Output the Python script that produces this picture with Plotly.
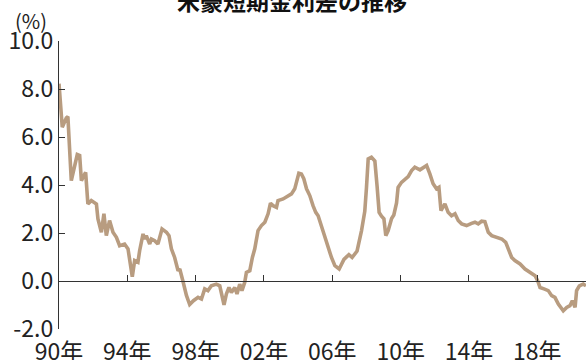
import plotly.graph_objects as go

# US-Australia short-term interest rate spread (%), by decimal year
years = [
    1990.00, 1990.19, 1990.43, 1990.52, 1990.72, 1991.07, 1991.21, 1991.31, 1991.56, 1991.69,
    1991.89, 1992.19, 1992.28, 1992.48, 1992.63, 1992.77, 1992.96, 1993.16, 1993.36, 1993.55,
    1993.84, 1994.04, 1994.29, 1994.43, 1994.62, 1994.72, 1994.92, 1995.01, 1995.11, 1995.31,
    1995.41, 1995.60, 1995.79, 1996.03, 1996.29, 1996.44, 1996.58, 1996.77, 1996.97, 1997.07,
    1997.26, 1997.46, 1997.65, 1997.87, 1998.14, 1998.34, 1998.53, 1998.72, 1998.92, 1999.21,
    1999.41, 1999.51, 1999.66, 1999.80, 1999.95, 2000.09, 2000.29, 2000.42, 2000.58, 2000.71,
    2000.87, 2000.97, 2001.17, 2001.32, 2001.46, 2001.65, 2001.85, 2002.05, 2002.24, 2002.38,
    2002.53, 2002.73, 2002.82, 2003.12, 2003.32, 2003.61, 2003.80, 2003.90, 2004.04, 2004.19,
    2004.33, 2004.49, 2004.68, 2004.87, 2005.03, 2005.17, 2005.37, 2005.56, 2005.75, 2005.95,
    2006.15, 2006.40, 2006.68, 2006.97, 2007.16, 2007.45, 2007.71, 2007.90, 2008.00, 2008.10,
    2008.29, 2008.49, 2008.62, 2008.74, 2008.88, 2009.02, 2009.13, 2009.27, 2009.47, 2009.60,
    2009.76, 2009.85, 2010.05, 2010.25, 2010.44, 2010.64, 2010.83, 2011.13, 2011.32, 2011.52,
    2011.71, 2011.90, 2012.10, 2012.24, 2012.36, 2012.59, 2012.78, 2012.98, 2013.18, 2013.37,
    2013.57, 2013.86, 2014.15, 2014.35, 2014.54, 2014.74, 2014.93, 2015.13, 2015.33, 2015.62,
    2015.92, 2016.15, 2016.30, 2016.50, 2016.69, 2016.99, 2017.28, 2017.57, 2017.87, 2018.02,
    2018.16, 2018.39, 2018.64, 2018.84, 2019.03, 2019.23, 2019.52, 2019.72, 2019.91, 2020.05,
    2020.21, 2020.30, 2020.46, 2020.69, 2020.85,
]
spread = [
    8.22, 6.41, 6.80, 6.85, 4.18, 5.27, 5.23, 4.18, 4.53, 3.21,
    3.35, 3.21, 2.59, 2.03, 2.80, 1.89, 2.52, 2.03, 1.82, 1.47,
    1.54, 1.34, 0.18, 0.85, 0.78, 1.26, 1.96, 1.75, 1.89, 1.54,
    1.75, 1.68, 1.54, 2.17, 2.03, 1.89, 1.34, 0.98, 0.43, 0.50,
    -0.02, -0.60, -0.98, -0.82, -0.68, -0.75, -0.33, -0.40, -0.20, -0.13,
    -0.20, -0.54, -0.99, -0.54, -0.27, -0.48, -0.27, -0.54, -0.13, -0.40,
    -0.06, 0.36, 0.43, 0.98, 1.34, 2.10, 2.31, 2.45, 2.80, 3.24,
    3.14, 3.07, 3.35, 3.42, 3.49, 3.63, 3.84, 4.18, 4.49, 4.46,
    4.26, 3.84, 3.56, 3.14, 2.86, 2.72, 2.24, 1.82, 1.40, 0.98,
    0.64, 0.50, 0.90, 1.10, 0.98, 1.25, 2.10, 2.90, 3.90, 5.09,
    5.16, 5.00, 3.95, 2.86, 2.70, 2.59, 1.89, 2.10, 2.60, 2.75,
    3.25, 3.90, 4.11, 4.26, 4.35, 4.60, 4.74, 4.63, 4.74, 4.81,
    4.46, 4.05, 3.84, 3.90, 2.93, 3.21, 2.86, 2.72, 2.80, 2.52,
    2.38, 2.31, 2.40, 2.45, 2.38, 2.49, 2.47, 2.03, 1.89, 1.82,
    1.75, 1.61, 1.34, 0.98, 0.85, 0.71, 0.50, 0.36, 0.22, 0.01,
    -0.27, -0.33, -0.40, -0.61, -0.68, -0.96, -1.24, -1.10, -1.03, -0.82,
    -1.10, -0.40, -0.20, -0.13, -0.20,
]

tick_years = [1990, 1994, 1998, 2002, 2006, 2010, 2014, 2018]
tick_text = ["90年", "94年", "98年", "02年", "06年", "10年", "14年", "18年"]
y_ticks = [-2, 0, 2, 4, 6, 8, 10]
y_tick_text = ["-2.0", "0.0", "2.0", "4.0", "6.0", "8.0", "10.0"]

x_range = [1990, 2020.85]
font_family = "Noto Sans CJK JP"
axis_color = "#333333"
text_color = "#222222"

fig = go.Figure()
fig.add_trace(go.Scatter(
    x=years, y=spread, mode="lines",
    line=dict(color="#B89C80", width=3.6),
    hoverinfo="skip", showlegend=False,
))
# transparent copy so the label axis has a subplot to live on
fig.add_trace(go.Scatter(
    x=years, y=spread, mode="lines", xaxis="x2",
    line=dict(color="rgba(0,0,0,0)", width=0),
    hoverinfo="skip", showlegend=False,
))

fig.update_layout(
    width=586, height=360,
    margin=dict(l=59, r=0, t=41, b=31, autoexpand=False),
    plot_bgcolor="white", paper_bgcolor="white",
    font=dict(family=font_family, color=text_color, size=23),
    # axis drawn along y = 0 with upward ticks, no labels
    xaxis=dict(
        range=x_range, anchor="free", position=2 / 12, automargin=False,
        showline=True, linecolor=axis_color, linewidth=1.4,
        ticks="inside", ticklen=6, tickwidth=1.4, tickcolor=axis_color,
        tickvals=tick_years[1:], showticklabels=False,
        showgrid=False, zeroline=False,
    ),
    # year labels along the bottom of the plot
    xaxis2=dict(
        range=x_range, overlaying="x", anchor="y", side="bottom",
        automargin=False,
        showline=False, ticks="", showgrid=False, zeroline=False,
        tickvals=tick_years, ticktext=tick_text, ticklabelstandoff=7,
        tickfont=dict(size=23, color=text_color),
    ),
    yaxis=dict(
        range=[-2, 10], tickvals=y_ticks, ticktext=y_tick_text,
        automargin=False,
        showline=True, linecolor=axis_color, linewidth=1.4,
        ticks="inside", ticklen=6, tickwidth=1.4, tickcolor=axis_color,
        showgrid=False, zeroline=False,
        tickfont=dict(size=23, color=text_color),
    ),
    annotations=[
        dict(
            text="<b>米豪短期金利差の推移</b>", xref="paper", yref="paper",
            x=0.443, y=1.141, xanchor="center", yanchor="middle",
            showarrow=False, font=dict(size=23, color="#111111"),
        ),
        dict(
            text="(%)", xref="paper", yref="paper",
            x=-0.053, y=1.072, xanchor="center", yanchor="middle",
            showarrow=False, font=dict(size=20, color=text_color),
        ),
    ],
)

fig.write_html("out.html")
